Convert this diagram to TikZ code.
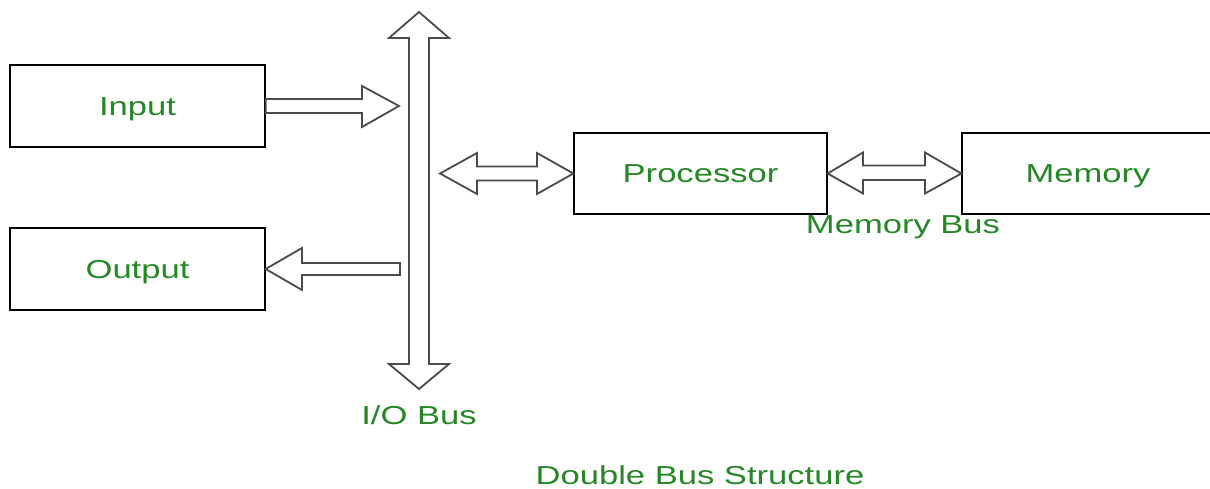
\documentclass[tikz,border=0pt]{standalone}
\usepackage{graphicx}
\usepackage{fontspec}
\setmainfont{Liberation Sans}
\definecolor{txtgreen}{RGB}{38,135,38}
\definecolor{arrgray}{RGB}{75,75,75}
\newcommand\stx[1]{\scalebox{1.33}[1]{#1}}
\tikzset{
  box/.style={draw=black, line width=1.3pt, inner sep=0pt, text=txtgreen, font=\fontsize{26}{30}\selectfont, text height=18.6pt, text depth=0pt},
  lbl/.style={inner sep=0pt, text=txtgreen, font=\fontsize{26}{30}\selectfont},
  blockarrow/.style={draw=arrgray, line width=1.8pt, line join=miter, fill=white}
}
\begin{document}
\begin{tikzpicture}[x=1pt,y=-1pt]
\clip (0,0) rectangle (1210,489);
\fill[white] (0,0) rectangle (1210,489);
% boxes
\node[box, minimum width=255pt, minimum height=82pt] (input) at (137.5,106) {\stx{Input}};
\node[box, minimum width=255pt, minimum height=82pt] (output) at (137.5,269) {\stx{Output}};
\node[box, minimum width=253pt, minimum height=81pt] (proc) at (700.5,173.5) {\stx{Processor}};
\node[box, minimum width=252pt, minimum height=81pt] (mem) at (1088,173.5) {\stx{Memory}};
% bus coordinates
\coordinate (bustop) at (419,12);
\coordinate (busbot) at (419,389);
% I/O bus (vertical double arrow)
\draw[blockarrow] (409,38) -- (389,38) -- (bustop) -- (449,38) -- (429,38) -- (429,364) -- (449,364) -- (busbot) -- (389,364) -- (409,364) -- cycle;
% input arrow
\draw[blockarrow] (input.east |- 0,99) -- (362,99) -- (362,86) -- (399,106) -- (362,127) -- (362,113) -- (input.east |- 0,113) -- cycle;
% output arrow
\draw[blockarrow] (400,263) -- (302,263) -- (302,248) -- (output.east) -- (302,290) -- (302,275) -- (400,275) -- cycle;
% processor double arrow
\draw[blockarrow] (440,173.5) -- (477,153) -- (477,166.5) -- (537,166.5) -- (537,153) -- (proc.west) -- (537,194) -- (537,180.5) -- (477,180.5) -- (477,194) -- cycle;
% memory bus double arrow
\draw[blockarrow] (proc.east) -- (863,152.5) -- (863,165.5) -- (925,165.5) -- (925,152.5) -- (mem.west) -- (925,193.5) -- (925,180) -- (863,180) -- (863,193.5) -- cycle;
% labels
\node[lbl] (memlbl) at (903,227) {\stx{Memory Bus}};
\node[lbl] (iolbl) at (419,415) {\stx{I/O Bus}};
\node[lbl] (title) at (700,475) {\stx{Double Bus Structure}};
\end{tikzpicture}
\end{document}
